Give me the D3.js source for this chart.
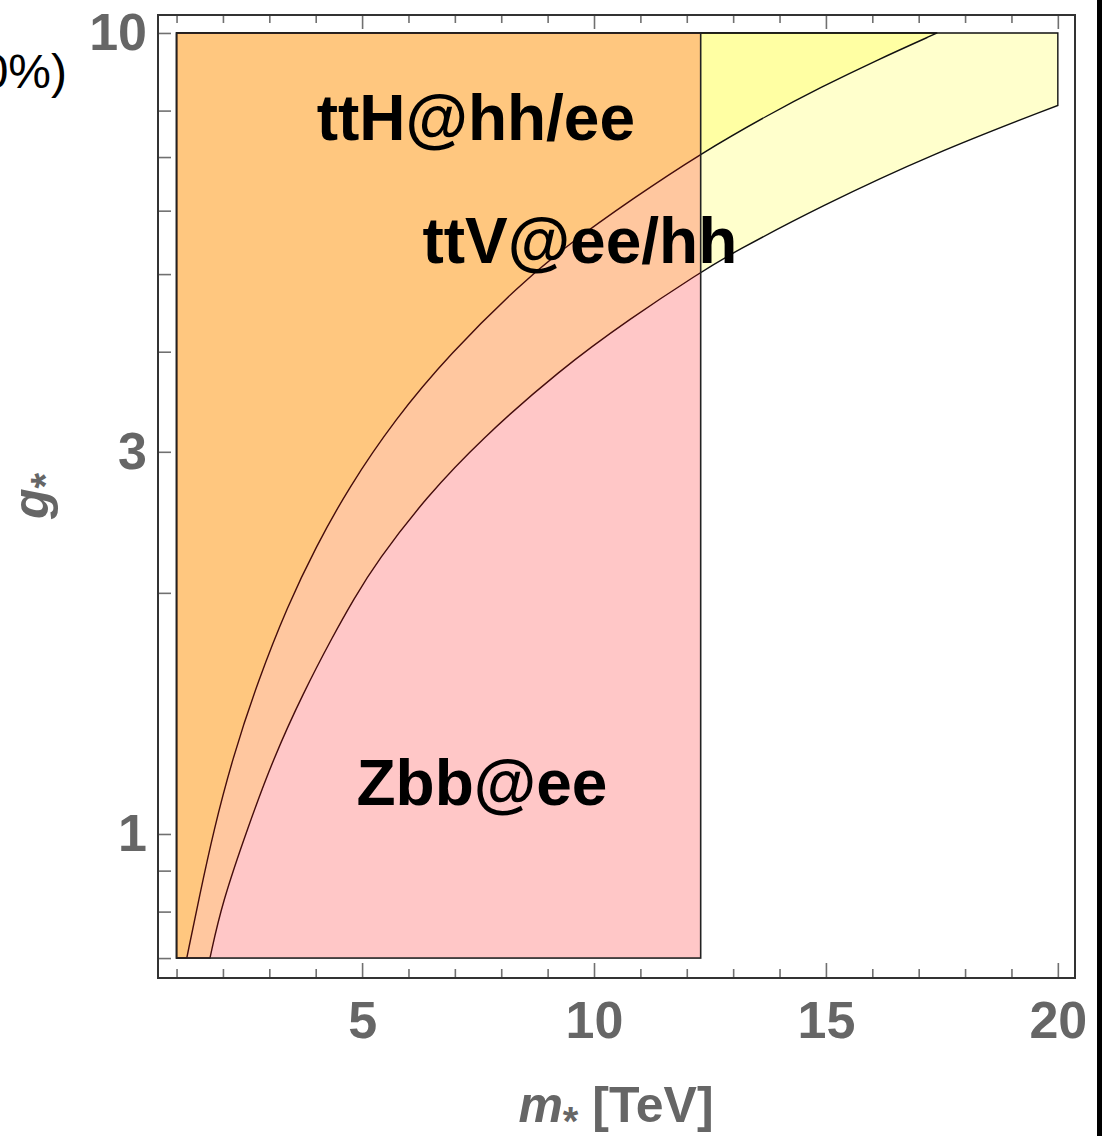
<!DOCTYPE html>
<html>
<head>
<meta charset="utf-8">
<script src="https://cdn.jsdelivr.net/npm/d3@7"></script>
<style>
  html, body { margin: 0; padding: 0; background: #fff; }
  svg { display: block; font-family: "Liberation Sans", Arial, Helvetica, sans-serif; }
</style>
</head>
<body>
<div id="chart"></div>
<script>
// region boundaries: [m* (TeV), g*]
const ttHCurve = [
  [1.22, 0.70], [1.50, 0.84], [1.80, 1.01], [2.20, 1.24], [2.75, 1.55],
  [3.40, 1.93], [4.00, 2.28], [4.70, 2.70], [5.70, 3.29], [6.90, 3.98],
  [8.40, 4.85], [9.40, 5.42], [10.85, 6.22], [12.30, 7.07], [13.75, 7.90],
  [14.90, 8.56], [16.10, 9.25], [17.40, 10.0]
];
const ttVCurve = [
  [1.72, 0.70], [1.98, 0.82], [2.54, 1.02], [3.08, 1.24], [3.73, 1.50],
  [4.38, 1.77], [4.81, 1.96], [5.32, 2.19], [6.40, 2.64], [7.54, 3.10],
  [9.27, 3.80], [10.78, 4.40], [12.28, 5.02], [13.00, 5.32], [14.87, 6.07],
  [17.31, 7.07], [20.00, 8.12]
];
const zbbBox = { m0: 1, m1: 12.3, g0: 0.7, g1: 10 };
const gMin = 0.7, gMax = 10, mLeft = 1, mRight = 20;

const xMajor = [5, 10, 15, 20];
const xMinor = [1, 2, 3, 4, 6, 7, 8, 9, 11, 12, 13, 14, 16, 17, 18, 19];
const yTicks = [0.7, 0.8, 0.9, 1, 2, 3, 4, 5, 6, 7, 8, 10];
const yLabels = [1, 3, 10];

const labels = [
  { text: 'ttH@hh/ee', m: 4.02, g: 7.35 },
  { text: 'ttV@ee/hh', m: 6.30, g: 5.16 },
  { text: 'Zbb@ee', m: 4.88, g: 1.087 }
];

const W = 1105, H = 1136;
const plot = { left: 158, right: 1075, top: 15, bottom: 978 };

const svg = d3.select('#chart').append('svg')
  .attr('width', W)
  .attr('height', H);

const x = d3.scaleLinear().domain([0.6, 20.37]).range([plot.left, plot.right]);
const y = d3.scaleLog().domain([0.661, 10.53]).range([plot.bottom, plot.top]);

const line = d3.line()
  .x(d => x(d[0]))
  .y(d => y(d[1]))
  .curve(d3.curveBasis);

function regionPath(curve, rightEdge) {
  const last = curve[curve.length - 1];
  let p = line(curve);
  if (last[1] < gMax) p += `L${x(rightEdge)},${y(gMax)}`;
  p += `L${x(mLeft)},${y(gMax)}L${x(mLeft)},${y(gMin)}Z`;
  return p;
}

// yellow regions (translucent, overlap gives a stronger yellow)
const regions = svg.append('g');
regions.append('path')
  .attr('d', regionPath(ttVCurve, mRight))
  .attr('fill', '#ffff00')
  .attr('fill-opacity', 0.2)
  .attr('stroke', '#111')
  .attr('stroke-width', 1.4);

regions.append('path')
  .attr('d', regionPath(ttHCurve, mRight))
  .attr('fill', '#ffff00')
  .attr('fill-opacity', 0.2)
  .attr('stroke', '#111')
  .attr('stroke-width', 1.4);

// Zbb box (translucent red)
regions.append('rect')
  .attr('x', x(zbbBox.m0))
  .attr('y', y(zbbBox.g1))
  .attr('width', x(zbbBox.m1) - x(zbbBox.m0))
  .attr('height', y(zbbBox.g0) - y(zbbBox.g1))
  .attr('fill', '#ff0000')
  .attr('fill-opacity', 0.22)
  .attr('stroke', '#222')
  .attr('stroke-width', 1.6);

// axes
const tickColor = '#707070';
const labelColor = '#666';

function styleAxis(g) {
  g.select('.domain').remove();
  g.selectAll('.tick line').attr('stroke', tickColor).attr('stroke-width', 1.6);
  g.selectAll('.tick text')
    .attr('fill', labelColor)
    .style('font-size', '52px')
    .style('font-weight', 'bold');
}

svg.append('g')
  .attr('transform', `translate(0,${plot.bottom})`)
  .call(d3.axisBottom(x).tickValues(xMinor).tickSizeInner(-9).tickSizeOuter(0).tickFormat(''))
  .call(styleAxis);
svg.append('g')
  .attr('transform', `translate(0,${plot.bottom})`)
  .call(d3.axisBottom(x).tickValues(xMajor).tickSizeInner(-15).tickSizeOuter(0).tickPadding(23).tickFormat(d3.format('d')))
  .call(styleAxis);

svg.append('g')
  .attr('transform', `translate(0,${plot.top})`)
  .call(d3.axisTop(x).tickValues(xMinor).tickSizeInner(-8).tickSizeOuter(0).tickFormat(''))
  .call(styleAxis);
svg.append('g')
  .attr('transform', `translate(0,${plot.top})`)
  .call(d3.axisTop(x).tickValues(xMajor).tickSizeInner(-14).tickSizeOuter(0).tickFormat(''))
  .call(styleAxis);

svg.append('g')
  .attr('transform', `translate(${plot.left},0)`)
  .call(d3.axisLeft(y).tickValues(yTicks).tickSizeInner(-13).tickSizeOuter(0).tickPadding(11)
    .tickFormat(d => yLabels.includes(d) ? d3.format('d')(d) : ''))
  .call(styleAxis);

// frame
svg.append('rect')
  .attr('x', plot.left)
  .attr('y', plot.top)
  .attr('width', plot.right - plot.left)
  .attr('height', plot.bottom - plot.top)
  .attr('fill', 'none')
  .attr('stroke', '#333')
  .attr('stroke-width', 2);

// region labels
svg.append('g').selectAll('text')
  .data(labels)
  .join('text')
  .attr('x', d => x(d.m))
  .attr('y', d => y(d.g))
  .attr('fill', '#000')
  .style('font-size', '64px')
  .style('font-weight', 'bold')
  .text(d => d.text);

// axis titles
const xt = svg.append('text')
  .attr('x', 616)
  .attr('y', 1122)
  .attr('text-anchor', 'middle')
  .attr('fill', labelColor)
  .style('font-size', '50px')
  .style('font-weight', 'bold');
xt.append('tspan').style('font-style', 'italic').text('m');
xt.append('tspan').attr('dy', 13).style('font-size', '40px').text('*');
xt.append('tspan').attr('dy', -13).text(' [TeV]');

const yt = svg.append('text')
  .attr('transform', 'translate(48,496) rotate(-90)')
  .attr('text-anchor', 'middle')
  .attr('fill', labelColor)
  .style('font-size', '50px')
  .style('font-weight', 'bold');
yt.append('tspan').style('font-style', 'italic').text('g');
yt.append('tspan').attr('dy', 11).style('font-size', '40px').text('*');

// partly visible text from a neighbouring panel
svg.append('text')
  .attr('x', 67)
  .attr('y', 88)
  .attr('text-anchor', 'end')
  .attr('fill', '#000')
  .style('font-size', '48px')
  .text('0%)');

// right border of the figure
svg.append('rect')
  .attr('x', 1097)
  .attr('y', 0)
  .attr('width', 5)
  .attr('height', H)
  .attr('fill', '#000');
</script>
</body>
</html>
